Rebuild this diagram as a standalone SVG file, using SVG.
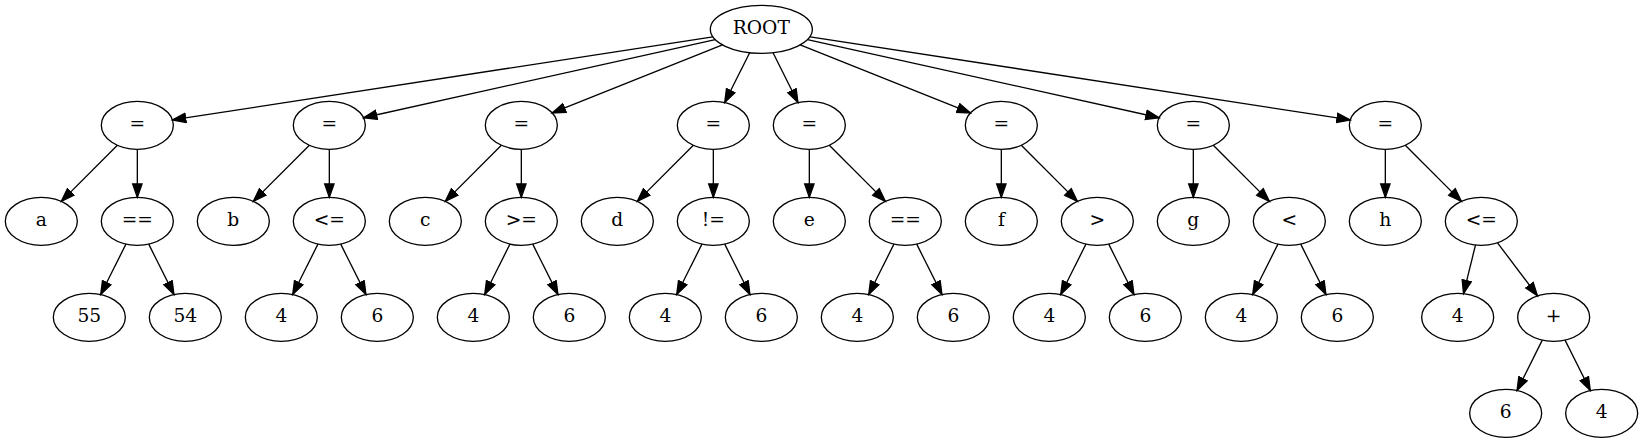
<svg xmlns="http://www.w3.org/2000/svg" width="1643" height="443" viewBox="0 0 1643 443">
<style>
.n ellipse{fill:none;stroke:#000;stroke-width:1.33}
.n text{font-family:"DejaVu Serif","Liberation Serif",serif;font-size:18.67px;text-anchor:middle;fill:#000}
.e line{stroke:#000;stroke-width:1.33;marker-end:url(#ah)}
</style>
<defs>
<marker id="ah" markerUnits="userSpaceOnUse" markerWidth="16" markerHeight="12" refX="14" refY="5.67" orient="auto" viewBox="0 0 16 12">
<path d="M0.67,1 L14,5.67 L0.67,10.33 Z" fill="#000" stroke="#000" stroke-width="1.33"/>
</marker>
</defs>
<rect width="1643" height="443" fill="#fff"/>
<g class="e" id="edges">
<line x1="712.86" y1="36.79" x2="172.41" y2="119.93"/>
<line x1="715.21" y1="39.58" x2="363.48" y2="117.74"/>
<line x1="722.47" y1="44.87" x2="552.20" y2="112.98"/>
<line x1="749.65" y1="52.69" x2="724.71" y2="102.56"/>
<line x1="773.01" y1="52.69" x2="797.95" y2="102.56"/>
<line x1="800.19" y1="44.87" x2="970.46" y2="112.98"/>
<line x1="807.45" y1="39.58" x2="1159.18" y2="117.74"/>
<line x1="810.19" y1="36.79" x2="1350.25" y2="119.93"/>
<line x1="117.36" y1="145.30" x2="61.30" y2="201.36"/>
<line x1="137.33" y1="149.33" x2="137.33" y2="197.33"/>
<line x1="309.36" y1="145.30" x2="253.30" y2="201.36"/>
<line x1="329.33" y1="149.33" x2="329.33" y2="197.33"/>
<line x1="501.36" y1="145.30" x2="445.30" y2="201.36"/>
<line x1="521.33" y1="149.33" x2="521.33" y2="197.33"/>
<line x1="693.36" y1="145.30" x2="637.30" y2="201.36"/>
<line x1="713.33" y1="149.33" x2="713.33" y2="197.33"/>
<line x1="809.33" y1="149.33" x2="809.33" y2="197.33"/>
<line x1="829.30" y1="145.30" x2="885.36" y2="201.36"/>
<line x1="1001.33" y1="149.33" x2="1001.33" y2="197.33"/>
<line x1="1021.30" y1="145.30" x2="1077.36" y2="201.36"/>
<line x1="1193.33" y1="149.33" x2="1193.33" y2="197.33"/>
<line x1="1213.30" y1="145.30" x2="1269.36" y2="201.36"/>
<line x1="1385.33" y1="149.33" x2="1385.33" y2="197.33"/>
<line x1="1405.30" y1="145.30" x2="1461.36" y2="201.36"/>
<line x1="125.95" y1="244.10" x2="100.71" y2="294.56"/>
<line x1="148.71" y1="244.10" x2="173.95" y2="294.56"/>
<line x1="317.95" y1="244.10" x2="292.71" y2="294.56"/>
<line x1="340.71" y1="244.10" x2="365.95" y2="294.56"/>
<line x1="509.95" y1="244.10" x2="484.71" y2="294.56"/>
<line x1="532.71" y1="244.10" x2="557.95" y2="294.56"/>
<line x1="701.95" y1="244.10" x2="676.71" y2="294.56"/>
<line x1="724.71" y1="244.10" x2="749.95" y2="294.56"/>
<line x1="893.95" y1="244.10" x2="868.71" y2="294.56"/>
<line x1="916.71" y1="244.10" x2="941.95" y2="294.56"/>
<line x1="1085.95" y1="244.10" x2="1060.71" y2="294.56"/>
<line x1="1108.71" y1="244.10" x2="1133.95" y2="294.56"/>
<line x1="1277.95" y1="244.10" x2="1252.71" y2="294.56"/>
<line x1="1300.71" y1="244.10" x2="1325.95" y2="294.56"/>
<line x1="1475.49" y1="245.01" x2="1463.51" y2="293.65"/>
<line x1="1497.49" y1="242.78" x2="1537.51" y2="295.88"/>
<line x1="1542.29" y1="340.10" x2="1517.05" y2="390.56"/>
<line x1="1565.05" y1="340.10" x2="1590.29" y2="390.56"/>
</g>
<g class="n" id="root"><ellipse cx="761.33" cy="29.33" rx="51" ry="24"/><text x="761.33" y="34.4">ROOT</text></g>
<g class="n" id="eq1"><ellipse cx="137.33" cy="125.33" rx="36" ry="24"/><text x="137.33" y="130.4">=</text></g>
<g class="n" id="eq2"><ellipse cx="329.33" cy="125.33" rx="36" ry="24"/><text x="329.33" y="130.4">=</text></g>
<g class="n" id="eq3"><ellipse cx="521.33" cy="125.33" rx="36" ry="24"/><text x="521.33" y="130.4">=</text></g>
<g class="n" id="eq4"><ellipse cx="713.33" cy="125.33" rx="36" ry="24"/><text x="713.33" y="130.4">=</text></g>
<g class="n" id="eq5"><ellipse cx="809.33" cy="125.33" rx="36" ry="24"/><text x="809.33" y="130.4">=</text></g>
<g class="n" id="eq6"><ellipse cx="1001.33" cy="125.33" rx="36" ry="24"/><text x="1001.33" y="130.4">=</text></g>
<g class="n" id="eq7"><ellipse cx="1193.33" cy="125.33" rx="36" ry="24"/><text x="1193.33" y="130.4">=</text></g>
<g class="n" id="eq8"><ellipse cx="1385.33" cy="125.33" rx="36" ry="24"/><text x="1385.33" y="130.4">=</text></g>
<g class="n" id="va"><ellipse cx="41.33" cy="221.33" rx="36" ry="24"/><text x="41.33" y="226.4">a</text></g>
<g class="n" id="op1"><ellipse cx="137.33" cy="221.33" rx="36" ry="24"/><text x="137.33" y="226.4">==</text></g>
<g class="n" id="vb"><ellipse cx="233.33" cy="221.33" rx="36" ry="24"/><text x="233.33" y="226.4">b</text></g>
<g class="n" id="op2"><ellipse cx="329.33" cy="221.33" rx="36" ry="24"/><text x="329.33" y="226.4">&lt;=</text></g>
<g class="n" id="vc"><ellipse cx="425.33" cy="221.33" rx="36" ry="24"/><text x="425.33" y="226.4">c</text></g>
<g class="n" id="op3"><ellipse cx="521.33" cy="221.33" rx="36" ry="24"/><text x="521.33" y="226.4">&gt;=</text></g>
<g class="n" id="vd"><ellipse cx="617.33" cy="221.33" rx="36" ry="24"/><text x="617.33" y="226.4">d</text></g>
<g class="n" id="op4"><ellipse cx="713.33" cy="221.33" rx="36" ry="24"/><text x="713.33" y="226.4">!=</text></g>
<g class="n" id="ve"><ellipse cx="809.33" cy="221.33" rx="36" ry="24"/><text x="809.33" y="226.4">e</text></g>
<g class="n" id="op5"><ellipse cx="905.33" cy="221.33" rx="36" ry="24"/><text x="905.33" y="226.4">==</text></g>
<g class="n" id="vf"><ellipse cx="1001.33" cy="221.33" rx="36" ry="24"/><text x="1001.33" y="226.4">f</text></g>
<g class="n" id="op6"><ellipse cx="1097.33" cy="221.33" rx="36" ry="24"/><text x="1097.33" y="226.4">&gt;</text></g>
<g class="n" id="vg"><ellipse cx="1193.33" cy="221.33" rx="36" ry="24"/><text x="1193.33" y="226.4">g</text></g>
<g class="n" id="op7"><ellipse cx="1289.33" cy="221.33" rx="36" ry="24"/><text x="1289.33" y="226.4">&lt;</text></g>
<g class="n" id="vh"><ellipse cx="1385.33" cy="221.33" rx="36" ry="24"/><text x="1385.33" y="226.4">h</text></g>
<g class="n" id="op8"><ellipse cx="1481.33" cy="221.33" rx="36" ry="24"/><text x="1481.33" y="226.4">&lt;=</text></g>
<g class="n" id="n55"><ellipse cx="89.33" cy="317.33" rx="36" ry="24"/><text x="89.33" y="322.4">55</text></g>
<g class="n" id="n54"><ellipse cx="185.33" cy="317.33" rx="36" ry="24"/><text x="185.33" y="322.4">54</text></g>
<g class="n" id="n2a"><ellipse cx="281.33" cy="317.33" rx="36" ry="24"/><text x="281.33" y="322.4">4</text></g>
<g class="n" id="n2b"><ellipse cx="377.33" cy="317.33" rx="36" ry="24"/><text x="377.33" y="322.4">6</text></g>
<g class="n" id="n3a"><ellipse cx="473.33" cy="317.33" rx="36" ry="24"/><text x="473.33" y="322.4">4</text></g>
<g class="n" id="n3b"><ellipse cx="569.33" cy="317.33" rx="36" ry="24"/><text x="569.33" y="322.4">6</text></g>
<g class="n" id="n4a"><ellipse cx="665.33" cy="317.33" rx="36" ry="24"/><text x="665.33" y="322.4">4</text></g>
<g class="n" id="n4b"><ellipse cx="761.33" cy="317.33" rx="36" ry="24"/><text x="761.33" y="322.4">6</text></g>
<g class="n" id="n5a"><ellipse cx="857.33" cy="317.33" rx="36" ry="24"/><text x="857.33" y="322.4">4</text></g>
<g class="n" id="n5b"><ellipse cx="953.33" cy="317.33" rx="36" ry="24"/><text x="953.33" y="322.4">6</text></g>
<g class="n" id="n6a"><ellipse cx="1049.33" cy="317.33" rx="36" ry="24"/><text x="1049.33" y="322.4">4</text></g>
<g class="n" id="n6b"><ellipse cx="1145.33" cy="317.33" rx="36" ry="24"/><text x="1145.33" y="322.4">6</text></g>
<g class="n" id="n7a"><ellipse cx="1241.33" cy="317.33" rx="36" ry="24"/><text x="1241.33" y="322.4">4</text></g>
<g class="n" id="n7b"><ellipse cx="1337.33" cy="317.33" rx="36" ry="24"/><text x="1337.33" y="322.4">6</text></g>
<g class="n" id="n8a"><ellipse cx="1457.67" cy="317.33" rx="36" ry="24"/><text x="1457.67" y="322.4">4</text></g>
<g class="n" id="plus"><ellipse cx="1553.67" cy="317.33" rx="36" ry="24"/><text x="1553.67" y="322.4">+</text></g>
<g class="n" id="p6"><ellipse cx="1505.67" cy="413.33" rx="36" ry="24"/><text x="1505.67" y="418.4">6</text></g>
<g class="n" id="p4"><ellipse cx="1601.67" cy="413.33" rx="36" ry="24"/><text x="1601.67" y="418.4">4</text></g>
</svg>
